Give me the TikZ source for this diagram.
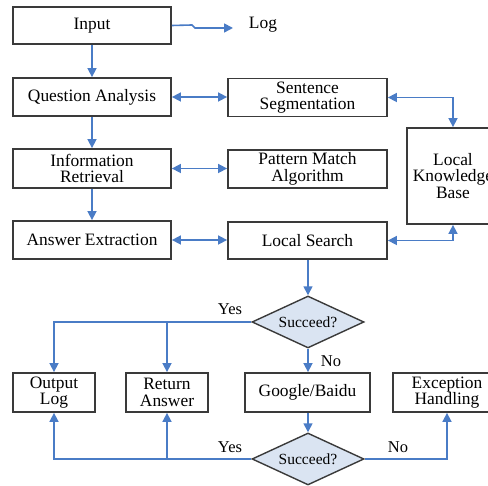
\documentclass[tikz,border=0pt]{standalone}
\usepackage{fontspec}
\setmainfont{Liberation Serif}
\usetikzlibrary{shapes.geometric,arrows.meta}
\definecolor{flowblue}{HTML}{4A7CC6}
\definecolor{boxline}{HTML}{3A3A3A}
\definecolor{decfill}{HTML}{DAE4F2}
\tikzset{
  procbox/.style={draw=boxline, line width=1.8pt, fill=white, inner sep=0pt,
    align=center, font=\fontsize{17.4}{16.7}\selectfont},
  decision/.style={diamond, draw=boxline, line width=1.4pt, fill=decfill, inner sep=0pt,
    aspect=2.15, minimum width=112, minimum height=52,
    font=\fontsize{15.5}{16}\selectfont},
  tip/.tip={Triangle[length=9pt,width=9pt]},
  flow/.style={draw=flowblue, line width=1.6pt, -tip},
  flowboth/.style={draw=flowblue, line width=1.6pt, tip-tip},
  lbl/.style={inner sep=0pt, font=\fontsize{16.5}{17}\selectfont}
}
\begin{document}
\begin{tikzpicture}[x=1pt,y=1pt]
\useasboundingbox (0,0) rectangle (488,486);
\fill[white] (0,0) rectangle (488,486);

% left column
\node[procbox, minimum width=158, minimum height=37] (input) at (92,460.5) {Input};
\node[procbox, minimum width=158, minimum height=38] (qa) at (92,389) {Question Analysis};
\node[procbox, minimum width=158, minimum height=39] (ir) at (92,317.5) {Information\\Retrieval};
\node[procbox, minimum width=158, minimum height=38] (ae) at (92,246) {Answer Extraction};

% middle column
\node[procbox, minimum width=159, minimum height=38] (ss) at (307.5,388.5) {Sentence\\Segmentation};
\node[procbox, minimum width=159, minimum height=38] (pm) at (307.5,317) {Pattern Match\\Algorithm};
\node[procbox, minimum width=159, minimum height=37] (ls) at (307.5,245.5) {Local Search};

% knowledge base (runs past the right edge)
\node[procbox, minimum width=92, minimum height=96] (lkb) at (453,310) {Local\\Knowledge\\Base};

% log output
\coordinate (logend) at (233,458);
\node[lbl, font=\fontsize{17.4}{17}\selectfont] (log) at (263,461) {Log};

% decisions
\node[decision] (d1) at (308,164) {Succeed?};
\node[decision] (d2) at (308,27) {Succeed?};

% bottom row
\node[procbox, minimum width=82, minimum height=39] (outlog) at (54,93.5) {Output\\Log};
\node[procbox, minimum width=82, minimum height=39] (retans) at (167,93.5) {Return\\Answer};
\node[procbox, minimum width=125, minimum height=39] (google) at (307.5,93.5) {Google/Baidu};
\node[procbox, minimum width=108, minimum height=39] (exc) at (447,93.5) {Exception\\Handling};

% main pipeline
\draw[flow] (input.east) -- (192,461) -- (195,458) -- (logend);
\draw[flow] (input.south) -- (qa.north);
\draw[flow] (qa.south) -- (ir.north);
\draw[flow] (ir.south) -- (ae.north);

\draw[flowboth] (qa.east) -- (qa.east -| ss.west);
\draw[flowboth] (ir.east) -- (ir.east -| pm.west);
\draw[flowboth] (ae.east) -- (ae.east -| ls.west);

\draw[flowboth] (ss.east) -| (lkb.north);
\draw[flowboth] (ls.east) -| (lkb.south);

% decision flow
\draw[flow] (ls.south -| d1.north) -- (d1.north);
\draw[flow] (d1.west) -| (outlog.north);
\draw[flow] (d1.west -| retans.north) -- (retans.north);
\draw[flow] (d1.south) -- (d1.south |- google.north);
\draw[flow] (d1.south |- google.south) -- (d2.north);
\draw[flow] (d2.west) -| (outlog.south);
\draw[flow] (d2.west -| retans.south) -- (retans.south);
\draw[flow] (d2.east) -| (exc.south);

% branch labels
\node[lbl] (yes1) at (230,177) {Yes};
\node[lbl] (no1) at (331,125) {No};
\node[lbl] (yes2) at (230,39) {Yes};
\node[lbl] (no2) at (398,39) {No};
\end{tikzpicture}
\end{document}
